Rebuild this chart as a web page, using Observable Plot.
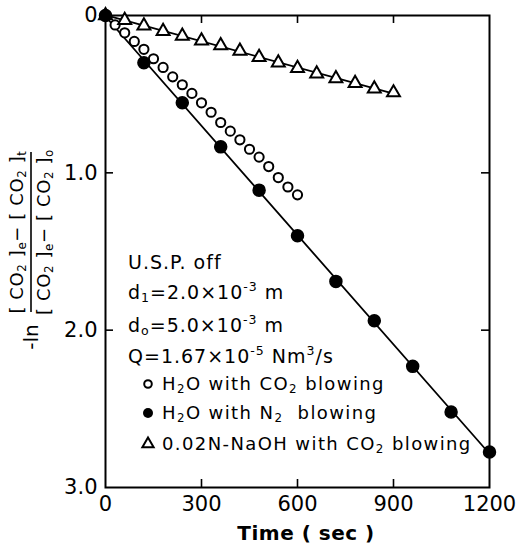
<!DOCTYPE html>
<html>
<head>
<meta charset="utf-8">
<script src="https://cdn.jsdelivr.net/npm/d3@7"></script>
<script src="https://cdn.jsdelivr.net/npm/@observablehq/plot@0.6"></script>
<style>
  body { margin: 0; background: #fff; }
  #chart { width: 520px; height: 550px; }
  #chart svg { display: block; }
</style>
</head>
<body>
<div id="chart"></div>
<script>
// Desorption of CO2: -ln ratio versus blowing time
// H2O with N2 blowing (filled circles, fitted line)
const timeN2 = [0, 120, 240, 360, 480, 600, 720, 840, 960, 1080, 1200];
const lnN2   = [0, 0.30, 0.555, 0.835, 1.11, 1.40, 1.69, 1.94, 2.23, 2.52, 2.775];

// H2O with CO2 blowing (open circles, no line)
const timeCO2 = [0, 30, 60, 90, 120, 150, 180, 210, 240, 270, 300, 330, 360, 390, 420, 450, 480, 510, 540, 570, 600];
const lnCO2   = [0, 0.06, 0.11, 0.165, 0.215, 0.275, 0.33, 0.39, 0.44, 0.495, 0.555, 0.615, 0.68, 0.735, 0.79, 0.85, 0.90, 0.96, 1.03, 1.09, 1.14];

// 0.02N-NaOH with CO2 blowing (triangles, fitted line)
const timeNaOH = [0, 60, 120, 180, 240, 300, 360, 420, 480, 540, 600, 660, 720, 780, 840, 900];
const lnNaOH   = [0, 0.03, 0.065, 0.10, 0.13, 0.16, 0.19, 0.225, 0.265, 0.30, 0.335, 0.37, 0.40, 0.43, 0.465, 0.49];

const xTicks = [0, 300, 600, 900, 1200];
const yTicks = [0, 1, 2, 3];
const xInner = [300, 600, 900];
const yInner = [1, 2];

const rows = (t, v) => t.map((x, i) => ({t: x, v: v[i]}));
const n2 = rows(timeN2, lnN2);
const co2 = rows(timeCO2, lnCO2);
const naoh = rows(timeNaOH, lnNaOH);

const W = 520, H = 550, mL = 105, mR = 31, mT = 15, mB = 63;
const innerW = W - mL - mR, innerH = H - mT - mB, tick = 8;
const FONT = "DejaVu Sans";

const svg = Plot.plot({
  width: W, height: H,
  marginLeft: mL, marginRight: mR, marginTop: mT, marginBottom: mB,
  style: {fontFamily: FONT, background: "#fff", color: "#000"},
  x: {domain: [0, 1200]},
  y: {domain: [0, 3], reverse: true},
  marks: [
    Plot.frame({stroke: "#000", strokeWidth: 2}),
    // inward ticks on all four sides
    Plot.tickX(xInner, {x: d => d, insetTop: innerH - tick, strokeWidth: 1.6}),
    Plot.tickX(xInner, {x: d => d, insetBottom: innerH - tick, strokeWidth: 1.6}),
    Plot.tickY(yInner, {y: d => d, insetRight: innerW - tick, strokeWidth: 1.6}),
    Plot.tickY(yInner, {y: d => d, insetLeft: innerW - tick, strokeWidth: 1.6}),
    Plot.axisX(xTicks, {tickSize: 0, tickPadding: 9, fontSize: 21, label: null,
      tickFormat: d => String(d)}),
    Plot.axisY(yTicks, {tickSize: 0, tickPadding: 8, fontSize: 21, label: null,
      tickFormat: d => d === 0 ? "0" : d.toFixed(1)}),
    // fitted lines
    Plot.linearRegressionY(naoh, {x: "t", y: "v", ci: 0, stroke: "#000", strokeWidth: 1.8}),
    Plot.linearRegressionY(n2, {x: "t", y: "v", ci: 0, stroke: "#000", strokeWidth: 1.8}),
    // markers
    Plot.dot(co2, {x: "t", y: "v", r: 4.6, fill: "#fff", stroke: "#000", strokeWidth: 2}),
    Plot.dot(naoh, {x: "t", y: "v", r: 4.8, symbol: "triangle", fill: "#fff", stroke: "#000", strokeWidth: 2}),
    Plot.dot(n2, {x: "t", y: "v", r: 6, fill: "#000", stroke: "#000"})
  ]
});
document.getElementById("chart").appendChild(svg);

const root = d3.select(svg);

// text with sub/superscript pieces
function rich(parent, x, y, parts, attrs = {}) {
  const t = parent.append("text").attr("x", x).attr("y", y)
    .attr("font-family", FONT).attr("fill", "#000").attr("text-anchor", "start");
  for (const [k, v] of Object.entries(attrs)) t.attr(k, v);
  let shift = 0;
  for (const p of parts) {
    const [str, kind] = typeof p === "string" ? [p, null] : p;
    const target = kind === "sub" ? 3 : kind === "sup" ? -8 : 0;
    const s = t.append("tspan").attr("dy", target - shift).text(str);
    if (kind) s.attr("font-size", "0.66em");
    shift = target;
  }
  return t;
}

// x axis title
root.append("text").attr("x", 306).attr("y", 540).attr("text-anchor", "middle")
  .attr("font-family", FONT).attr("font-weight", "bold").attr("font-size", 20)
  .attr("letter-spacing", 0.5).text("Time ( sec )");

// y axis title: -ln of the concentration ratio, rotated
const yl = root.append("g").attr("transform", "translate(31,232) rotate(-90)");
const yAttrs = {"font-size": 18, "text-anchor": "middle", "letter-spacing": 0.6};
rich(yl, 0, -8, ["[ CO", ["2", "sub"], " ]", ["e", "sub"], "− [ CO", ["2", "sub"], " ]", ["t", "sub"]], yAttrs);
rich(yl, 0, 19, ["[ CO", ["2", "sub"], " ]", ["e", "sub"], "− [ CO", ["2", "sub"], " ]", ["o", "sub"]], yAttrs);
yl.append("line").attr("x1", -80).attr("x2", 80).attr("y1", 0).attr("y2", 0)
  .attr("stroke", "#000").attr("stroke-width", 1.6);
rich(yl, -105, 7, ["-ln"], {"font-size": 20, "text-anchor": "middle"});

// operating conditions
const cond = {"font-size": 19, "letter-spacing": 1};
rich(root, 128, 269, ["U.S.P. off"], cond);
rich(root, 128, 299, ["d", ["1", "sub"], "=2.0×10", ["-3", "sup"], " m"], cond);
rich(root, 128, 332, ["d", ["o", "sub"], "=5.0×10", ["-3", "sup"], " m"], cond);
rich(root, 128, 363, ["Q=1.67×10", ["-5", "sup"], " Nm", ["3", "sup"], "/s"], cond);

// legend
const leg = {"font-size": 18, "letter-spacing": 1.4};
const lx = 148, tx = 162;
root.append("circle").attr("cx", lx).attr("cy", 384).attr("r", 3.8)
  .attr("fill", "#fff").attr("stroke", "#000").attr("stroke-width", 2);
rich(root, tx, 390, ["H", ["2", "sub"], "O with CO", ["2", "sub"], " blowing"], leg);
root.append("circle").attr("cx", lx).attr("cy", 413).attr("r", 5).attr("fill", "#000");
rich(root, tx, 419, ["H", ["2", "sub"], "O with N", ["2", "sub"], "  blowing"], leg);
root.append("path").attr("transform", `translate(${lx},444)`)
  .attr("d", d3.symbol(d3.symbolTriangle, 55)())
  .attr("fill", "#fff").attr("stroke", "#000").attr("stroke-width", 2);
rich(root, tx, 450, ["0.02N-NaOH with CO", ["2", "sub"], " blowing"], leg);
</script>
</body>
</html>
